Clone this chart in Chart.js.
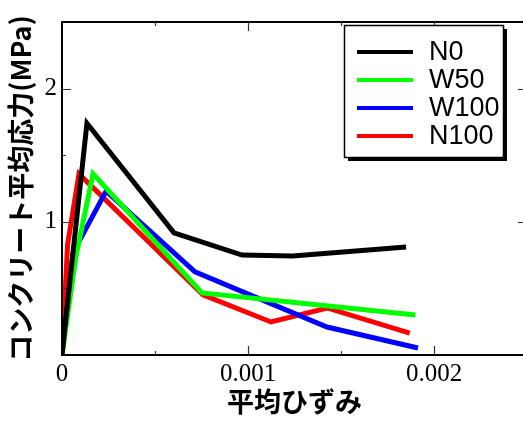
<!DOCTYPE html>
<html>
<head>
<meta charset="utf-8">
<script src="https://cdn.jsdelivr.net/npm/chart.js@4"></script>
<style>
  html, body { margin: 0; padding: 0; background: #fff; overflow: hidden; }
</style>
</head>
<body>
<canvas id="chart" width="530" height="421"></canvas>
<script>
// Series data (strain, stress in MPa)
const seriesNames = ['N0', 'W50', 'W100', 'N100'];
const seriesColors = ['#000000', '#00ff00', '#0000ff', '#ff0000'];

const n0Strain = [0, 0.000134, 0.000602, 0.000968, 0.00124, 0.00185];
const n0Stress = [0, 1.74, 0.917, 0.75, 0.744, 0.81];

const w50Strain = [0, 0.000075, 0.000167, 0.000753, 0.0019];
const w50Stress = [0, 0.74, 1.36, 0.466, 0.30];

const w100Strain = [0, 0.00006, 0.000237, 0.000715, 0.001425, 0.001914];
const w100Stress = [0, 0.77, 1.23, 0.624, 0.21, 0.053];

const n100Strain = [0, 0.00003, 0.0000914, 0.000758, 0.001124, 0.001425, 0.00187];
const n100Stress = [0, 0.83, 1.36, 0.451, 0.248, 0.353, 0.165];

// Axis ticks
const xLabelTicks = [0, 0.001, 0.002];
const xMajorTicks = [0.001, 0.002];
const xMinorTicks = [0.0005, 0.0015];
const yLabelTicks = [1, 2];
const yMajorTicks = [1, 2];
const yMinorTicks = [0.5, 1.5];

const xTitle = '平均ひずみ';
const yTitle = 'コンクリート平均応力(MPa)';

function toPoints(xs, ys) {
    return xs.map((x, i) => ({ x: x, y: ys[i] }));
}

const allSeries = [
    toPoints(n0Strain, n0Stress),
    toPoints(w50Strain, w50Stress),
    toPoints(w100Strain, w100Stress),
    toPoints(n100Strain, n100Stress)
];

// Frame with inward ticks on all four sides
const framePlugin = {
    id: 'frame',
    afterDatasetsDraw(chart) {
        const ctx = chart.ctx;
        const a = chart.chartArea;
        const xs = chart.scales.x, ys = chart.scales.y;
        ctx.save();
        ctx.strokeStyle = '#000';
        ctx.lineWidth = 2;
        ctx.strokeRect(a.left, a.top, a.right - a.left, a.bottom - a.top);

        ctx.strokeStyle = '#333';
        ctx.lineWidth = 1.2;
        function xTick(v, len) {
            const px = Math.round(xs.getPixelForValue(v)) + 0.5;
            ctx.beginPath();
            ctx.moveTo(px, a.bottom); ctx.lineTo(px, a.bottom - len);
            ctx.moveTo(px, a.top); ctx.lineTo(px, a.top + len);
            ctx.stroke();
        }
        function yTick(v, len) {
            const py = Math.round(ys.getPixelForValue(v)) + 0.5;
            ctx.beginPath();
            ctx.moveTo(a.left, py); ctx.lineTo(a.left + len, py);
            ctx.moveTo(a.right, py); ctx.lineTo(a.right - len, py);
            ctx.stroke();
        }
        xMajorTicks.forEach(v => xTick(v, 9));
        xMinorTicks.forEach(v => xTick(v, 4));
        yMajorTicks.forEach(v => yTick(v, 9));
        yMinorTicks.forEach(v => yTick(v, 4));
        ctx.restore();
    }
};

// Boxed legend with drop shadow in upper right
const legendPlugin = {
    id: 'boxLegend',
    afterDraw(chart) {
        const ctx = chart.ctx;
        const bx = 344, by = 25, bw = 159, bh = 132;
        ctx.save();
        ctx.fillStyle = '#000';
        ctx.fillRect(bx + 4, by + 4, bw, bh);
        ctx.fillStyle = '#fff';
        ctx.fillRect(bx, by, bw, bh);
        ctx.strokeStyle = '#000';
        ctx.lineWidth = 1.5;
        ctx.strokeRect(bx + 0.5, by + 0.5, bw, bh);

        ctx.font = '27px "Liberation Sans", Arial, sans-serif';
        ctx.textBaseline = 'middle';
        ctx.textAlign = 'left';
        chart.data.datasets.forEach((ds, i) => {
            const ry = 52 + i * 28;
            ctx.strokeStyle = ds.borderColor;
            ctx.lineWidth = 4;
            ctx.beginPath();
            ctx.moveTo(357, ry);
            ctx.lineTo(413, ry);
            ctx.stroke();
            ctx.fillStyle = '#000';
            ctx.fillText(ds.label, 429, ry + 1);
        });
        ctx.restore();
    }
};

const ctx = document.getElementById('chart').getContext('2d');

new Chart(ctx, {
    type: 'scatter',
    data: {
        datasets: allSeries.map((pts, i) => ({
            label: seriesNames[i],
            data: pts,
            showLine: true,
            borderColor: seriesColors[i],
            backgroundColor: seriesColors[i],
            borderWidth: 5,
            borderJoinStyle: 'miter',
            pointRadius: 0,
            tension: 0
        }))
    },
    options: {
        responsive: false,
        animation: false,
        devicePixelRatio: 1,
        layout: {
            padding: { left: 0, top: 22, right: 3, bottom: 0 }
        },
        scales: {
            x: {
                type: 'linear',
                min: 0,
                max: 0.0025,
                grid: { display: false, drawTicks: false },
                border: { display: false },
                afterBuildTicks: scale => {
                    scale.ticks = xLabelTicks.map(v => ({ value: v }));
                },
                afterFit: scale => { scale.height = 66; },
                ticks: {
                    padding: 4,
                    color: '#000',
                    font: { family: '"Liberation Serif", "Times New Roman", serif', size: 25 },
                    callback: v => v === 0 ? '0' : v.toFixed(3)
                },
                title: {
                    display: true,
                    text: xTitle,
                    color: '#000',
                    padding: { top: 0, bottom: 3 },
                    font: { family: '"Noto Sans CJK JP", sans-serif', size: 27, weight: 'bold' }
                }
            },
            y: {
                type: 'linear',
                min: 0,
                max: 2.5,
                grid: { display: false, drawTicks: false },
                border: { display: false },
                afterBuildTicks: scale => {
                    scale.ticks = yLabelTicks.map(v => ({ value: v }));
                },
                afterFit: scale => { scale.width = 62; },
                ticks: {
                    padding: 5,
                    color: '#000',
                    font: { family: '"Liberation Serif", "Times New Roman", serif', size: 25 },
                    callback: v => String(v)
                },
                title: {
                    display: true,
                    text: yTitle,
                    color: '#000',
                    padding: { top: 5, bottom: 0 },
                    font: { family: '"Noto Sans CJK JP", sans-serif', size: 27, weight: 'bold' }
                }
            }
        },
        plugins: {
            legend: { display: false },
            tooltip: { enabled: false }
        }
    },
    plugins: [framePlugin, legendPlugin]
});
</script>
</body>
</html>
